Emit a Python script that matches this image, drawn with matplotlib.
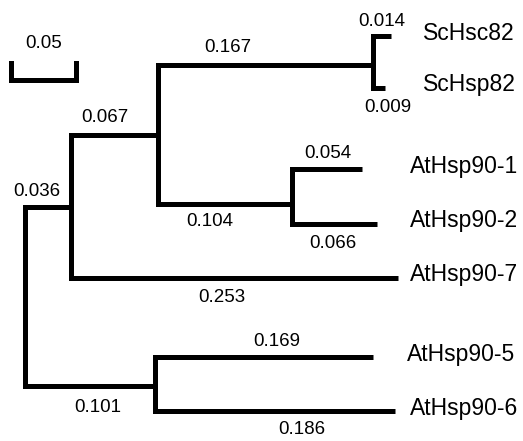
import matplotlib
matplotlib.use("Agg")
import matplotlib.pyplot as plt

# tree data: each node, its parent and the branch length to it
nodes = ["A", "B", "C", "Sc", "At12",
         "ScHsc82", "ScHsp82", "AtHsp90-1", "AtHsp90-2",
         "AtHsp90-7", "AtHsp90-5", "AtHsp90-6"]
parents = ["root", "root", "A", "C", "C",
           "Sc", "Sc", "At12", "At12",
           "A", "B", "B"]
branch_len = [0.036, 0.101, 0.067, 0.167, 0.104,
              0.014, 0.009, 0.054, 0.066,
              0.253, 0.169, 0.186]
leaves = ["ScHsc82", "ScHsp82", "AtHsp90-1", "AtHsp90-2",
          "AtHsp90-7", "AtHsp90-5", "AtHsp90-6"]
scale_len = 0.05

# layout: vertical row of each node (pixels from top)
row = {"root": 297, "A": 207, "B": 386, "C": 135, "Sc": 65, "At12": 204,
       "ScHsc82": 36, "ScHsp82": 88, "AtHsp90-1": 169, "AtHsp90-2": 224,
       "AtHsp90-7": 278, "AtHsp90-5": 357, "AtHsp90-6": 411}
# branch-length label positions (x px, y px)
lab_pos = {"A": (37, 191), "B": (98, 408), "C": (105, 118), "Sc": (228, 48),
           "At12": (210, 222), "ScHsc82": (382, 22), "ScHsp82": (388, 107),
           "AtHsp90-1": (328, 153), "AtHsp90-2": (333, 243),
           "AtHsp90-7": (222, 298), "AtHsp90-5": (277, 342),
           "AtHsp90-6": (302, 430)}
# leaf label left edge (px)
leaf_x = {"ScHsc82": 423, "ScHsp82": 423, "AtHsp90-5": 407}

px = 1290.0  # pixels per unit branch length
x0 = 25      # root column

fig = plt.figure(figsize=(5.23, 4.41), dpi=100)
ax = fig.add_axes([0, 0, 1, 1])
ax.set_xlim(-x0 / px, (523 - x0) / px)
ax.set_ylim(441, 0)
ax.axis("off")

# cumulative distance from root
dist = {"root": 0.0}
for n, p, b in zip(nodes, parents, branch_len):
    dist[n] = dist[p] + b

lw = 3.6
# horizontal branches
for n, p in zip(nodes, parents):
    ax.plot([dist[p], dist[n]], [row[n], row[n]], color="black", lw=lw,
            solid_capstyle="butt")
# vertical connectors
for p in ["root"] + nodes:
    kids = [row[n] for n, q in zip(nodes, parents) if q == p]
    if kids:
        ax.plot([dist[p], dist[p]], [min(kids), max(kids)], color="black",
                lw=lw, solid_capstyle="projecting")

font = "Liberation Sans"
for n, b in zip(nodes, branch_len):
    xp, yp = lab_pos[n]
    ax.text((xp - x0) / px, yp, "%.3f" % b, ha="center", va="center",
            fontsize=13.5, family=font)

for n in leaves:
    lx = leaf_x.get(n, 410)
    ax.text((lx - x0) / px, row[n] - 3, n, ha="left", va="center",
            fontsize=16.5, family=font)

# scale bar
sx = (11 - x0) / px
ax.plot([sx, sx, sx + scale_len, sx + scale_len], [63, 80, 80, 63],
        color="black", lw=lw, solid_joinstyle="miter")
ax.text(sx + scale_len / 2, 44, "%.2f" % scale_len, ha="center", va="center",
        fontsize=13.5, family=font)

fig.savefig("out.png", dpi=100)
